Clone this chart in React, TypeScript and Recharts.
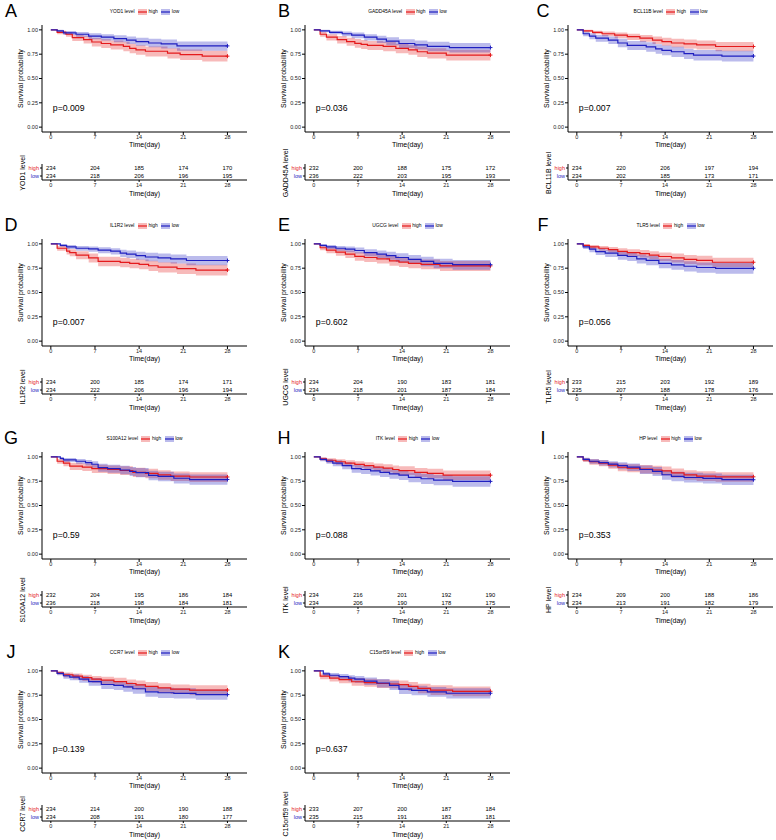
import React from 'react';
import { ComposedChart, Line, Area, Scatter, XAxis, YAxis, ReferenceDot, Label } from 'recharts';

const RED = '#e41a1c';
const BLUE = '#1f1fc0';
const FONT = '"Liberation Sans", Arial, sans-serif';

const letters = ['A', 'B', 'C', 'D', 'E', 'F', 'G', 'H', 'I', 'J', 'K'];
const genes = ['YOD1', 'GADD45A', 'BCL11B', 'IL1R2', 'UGCG', 'TLR5', 'S100A12', 'ITK', 'HP', 'CCR7', 'C15orf59'];
const pValues = ['p=0.009', 'p=0.036', 'p=0.007', 'p=0.007', 'p=0.602', 'p=0.056', 'p=0.59', 'p=0.088', 'p=0.353', 'p=0.139', 'p=0.637'];
const timeTicks = [0, 7, 14, 21, 28];
const survTicks = [0, 0.25, 0.5, 0.75, 1];

// number at risk, at days 0/7/14/21/28
const riskHigh = [
  [234, 204, 185, 174, 170],
  [232, 200, 188, 175, 172],
  [234, 220, 206, 197, 194],
  [234, 200, 185, 174, 171],
  [234, 204, 190, 183, 181],
  [233, 215, 203, 192, 189],
  [232, 204, 195, 186, 184],
  [234, 216, 201, 192, 190],
  [234, 209, 200, 188, 186],
  [234, 214, 200, 190, 188],
  [233, 207, 200, 187, 184],
];
const riskLow = [
  [234, 218, 206, 196, 195],
  [236, 222, 203, 195, 193],
  [234, 202, 185, 173, 171],
  [234, 222, 206, 196, 194],
  [234, 218, 201, 187, 184],
  [235, 207, 188, 178, 176],
  [236, 218, 198, 184, 181],
  [234, 206, 190, 178, 175],
  [234, 213, 191, 182, 179],
  [234, 208, 191, 180, 177],
  [235, 215, 191, 183, 181],
];

// KM steps: [day, survival, lower CI, upper CI]
const yod1High = [[0,1,1,1],[1,.975,.955,.992],[2.4,.955,.928,.978],[3.4,.92,.885,.952],[5.2,.9,.86,.936],[6.5,.875,.83,.916],[8,.86,.814,.904],[9.5,.845,.797,.89],[11.5,.83,.781,.877],[12.5,.81,.76,.857],[13.5,.795,.744,.843],[15,.78,.727,.83],[18.5,.76,.706,.812],[20.5,.745,.69,.799],[24,.73,.675,.785],[28,.73,.675,.785]];
const yod1Low = [[0,1,1,1],[1,.99,.975,1],[2,.97,.948,.988],[4,.955,.928,.978],[6,.935,.903,.964],[8,.925,.89,.956],[10,.91,.872,.944],[12,.895,.854,.932],[13.5,.88,.836,.92],[15.5,.865,.82,.908],[17.5,.855,.809,.9],[20,.835,.786,.881],[28,.835,.786,.881]];
const gaddHigh = [[0,1,1,1],[1,.955,.928,.978],[2,.925,.89,.956],[3.7,.9,.86,.936],[5.2,.88,.836,.92],[6.5,.862,.816,.905],[7.5,.85,.803,.895],[8.5,.84,.792,.886],[11,.83,.781,.877],[13,.81,.76,.857],[15,.795,.744,.843],[16.4,.775,.722,.826],[18,.76,.706,.812],[21,.741,.686,.795],[28,.741,.686,.795]];
const gaddLow = [[0,1,1,1],[1,.99,.975,1],[2.5,.975,.955,.992],[4.5,.96,.935,.982],[6,.945,.915,.972],[8,.925,.89,.956],[10,.905,.866,.94],[11.5,.885,.842,.924],[13.5,.86,.814,.904],[16,.845,.797,.89],[18,.83,.781,.877],[21.5,.818,.768,.865],[28,.818,.768,.865]];
const bclHigh = [[0,1,1,1],[1,.99,.975,1],[2.5,.975,.955,.992],[4,.96,.935,.982],[6,.945,.915,.972],[8,.93,.897,.96],[10,.915,.878,.948],[12,.895,.854,.932],[13.5,.88,.836,.92],[15,.865,.82,.908],[17,.855,.809,.9],[19,.845,.797,.89],[22,.829,.78,.876],[28,.829,.78,.876]];
const bclLow = [[0,1,1,1],[1,.96,.935,.982],[2,.935,.903,.964],[3,.915,.878,.948],[5,.895,.854,.932],[6.5,.865,.82,.908],[8,.84,.792,.886],[11,.825,.776,.872],[12.5,.805,.754,.852],[13.5,.79,.738,.839],[15,.775,.722,.826],[17,.755,.7,.807],[18.5,.74,.685,.794],[23,.731,.676,.786],[28,.731,.676,.786]];
const il1High = [[0,1,1,1],[1,.955,.928,.978],[2.5,.925,.89,.956],[3,.91,.872,.944],[4,.885,.842,.924],[6,.855,.809,.9],[7.5,.82,.77,.867],[11,.81,.76,.857],[12.5,.8,.749,.848],[14,.79,.738,.839],[15.5,.775,.722,.826],[17,.76,.706,.812],[20,.745,.69,.799],[23,.731,.676,.786],[28,.731,.676,.786]];
const il1Low = [[0,1,1,1],[1.5,.985,.97,.997],[2.5,.97,.948,.988],[4,.955,.928,.978],[6,.948,.918,.974],[7.5,.935,.903,.964],[9.5,.925,.89,.956],[11,.905,.866,.94],[12,.895,.854,.932],[13.5,.88,.836,.92],[15,.865,.82,.908],[17,.855,.809,.9],[19,.845,.797,.89],[21.5,.829,.78,.876],[28,.829,.78,.876]];
const ugcgHigh = [[0,1,1,1],[1,.96,.935,.982],[2,.935,.903,.964],[3.5,.915,.878,.948],[5,.895,.854,.932],[6.5,.872,.827,.914],[8,.86,.814,.904],[10,.845,.797,.89],[12,.825,.776,.872],[13.5,.812,.762,.859],[15,.8,.749,.848],[17,.79,.738,.839],[20,.774,.721,.825],[28,.774,.721,.825]];
const ugcgLow = [[0,1,1,1],[1,.985,.97,.997],[2,.97,.948,.988],[3.5,.955,.928,.978],[5,.945,.915,.972],[6.5,.932,.9,.962],[8,.91,.872,.944],[10,.895,.854,.932],[11.5,.88,.836,.92],[13,.86,.814,.904],[15,.84,.792,.886],[17,.82,.77,.867],[19,.8,.749,.848],[22,.786,.734,.835],[28,.786,.734,.835]];
const tlrHigh = [[0,1,1,1],[1,.985,.97,.997],[2,.97,.948,.988],[3.5,.955,.928,.978],[5,.94,.91,.968],[6.5,.923,.888,.955],[8,.91,.872,.944],[10,.9,.86,.936],[11.5,.885,.842,.924],[13,.87,.825,.912],[15,.855,.809,.9],[17,.84,.792,.886],[19,.83,.781,.877],[21.5,.811,.761,.858],[28,.811,.761,.858]];
const tlrLow = [[0,1,1,1],[1,.97,.948,.988],[2,.945,.915,.972],[3,.92,.885,.952],[4.5,.905,.866,.94],[6.5,.881,.837,.921],[8,.87,.825,.912],[9.5,.845,.797,.89],[11,.83,.781,.877],[13,.8,.749,.848],[15,.785,.733,.834],[17,.77,.717,.821],[19,.757,.703,.809],[22,.749,.694,.802],[28,.749,.694,.802]];
const s100High = [[0,1,1,1],[1,.955,.928,.978],[2,.935,.903,.964],[3,.905,.866,.94],[5,.895,.854,.932],[6.5,.879,.835,.919],[9,.87,.825,.912],[11,.86,.814,.904],[13,.841,.793,.887],[15,.83,.781,.877],[17,.815,.765,.862],[19,.802,.751,.85],[22,.793,.741,.842],[28,.793,.741,.842]];
const s100Low = [[0,1,1,1],[1.5,.985,.97,.997],[2,.97,.948,.988],[4,.955,.928,.978],[5.5,.94,.91,.968],[6.5,.924,.889,.955],[7.5,.89,.848,.928],[9,.88,.836,.92],[11,.865,.82,.908],[12.5,.85,.803,.895],[13.5,.839,.79,.885],[15.5,.81,.76,.857],[17,.8,.749,.848],[19.5,.78,.727,.83],[22,.767,.714,.818],[28,.767,.714,.818]];
const itkHigh = [[0,1,1,1],[1,.98,.962,.995],[2,.965,.94,.985],[3.5,.95,.92,.975],[5,.935,.903,.964],[6.5,.923,.888,.955],[8,.91,.872,.944],[9.5,.895,.854,.932],[11,.885,.842,.924],[12.5,.87,.825,.912],[13.5,.859,.813,.903],[16,.84,.792,.886],[18,.83,.781,.877],[20.5,.812,.762,.859],[28,.812,.762,.859]];
const itkLow = [[0,1,1,1],[1,.975,.955,.992],[2,.955,.928,.978],[3,.935,.903,.964],[4.5,.91,.872,.944],[6,.88,.836,.92],[7.5,.87,.825,.912],[9,.855,.809,.9],[10.5,.84,.792,.886],[12,.825,.776,.872],[13.5,.812,.762,.859],[15,.79,.738,.839],[17,.775,.722,.826],[19,.761,.707,.813],[22,.748,.693,.801],[28,.748,.693,.801]];
const hpHigh = [[0,1,1,1],[1,.97,.948,.988],[2,.95,.92,.975],[3.5,.935,.903,.964],[5,.915,.878,.948],[6.5,.893,.852,.931],[8,.885,.842,.924],[10,.875,.83,.916],[12,.865,.82,.908],[13.5,.855,.809,.9],[15,.835,.786,.881],[17,.815,.765,.862],[19,.803,.752,.851],[22,.795,.744,.843],[28,.795,.744,.843]];
const hpLow = [[0,1,1,1],[1,.975,.955,.992],[2,.955,.928,.978],[3.5,.94,.91,.968],[5,.925,.89,.956],[6.5,.91,.872,.944],[8,.895,.854,.932],[10,.87,.825,.912],[12,.85,.803,.895],[13.5,.816,.766,.863],[15,.8,.749,.848],[17,.788,.736,.837],[20,.778,.725,.828],[23,.765,.712,.816],[28,.765,.712,.816]];
const ccr7High = [[0,1,1,1],[1,.98,.962,.995],[2,.96,.935,.982],[3.5,.945,.915,.972],[5,.93,.897,.96],[6.5,.915,.878,.948],[8,.905,.866,.94],[10,.89,.848,.928],[12,.87,.825,.912],[13.5,.855,.809,.9],[15,.84,.792,.886],[17,.825,.776,.872],[19,.812,.762,.859],[22,.803,.752,.851],[28,.803,.752,.851]];
const ccr7Low = [[0,1,1,1],[1,.975,.955,.992],[2,.95,.92,.975],[3,.935,.903,.964],[4.5,.915,.878,.948],[6,.889,.847,.927],[8,.86,.814,.904],[10,.85,.803,.895],[11.5,.835,.786,.881],[13,.816,.766,.863],[15,.785,.733,.834],[17,.775,.722,.826],[19.5,.769,.716,.82],[23,.756,.702,.808],[28,.756,.702,.808]];
const c15High = [[0,1,1,1],[1,.945,.915,.972],[2.5,.925,.89,.956],[4,.91,.872,.944],[6,.888,.846,.927],[8,.88,.836,.92],[10,.87,.825,.912],[12,.865,.82,.908],[13.5,.858,.812,.902],[15,.84,.792,.886],[16.5,.82,.77,.867],[18.5,.803,.752,.851],[22,.79,.738,.839],[28,.79,.738,.839]];
const c15Low = [[0,1,1,1],[1.5,.97,.948,.988],[2.5,.955,.928,.978],[4,.94,.91,.968],[5.5,.925,.89,.956],[6.5,.915,.878,.948],[8,.895,.854,.932],[10,.875,.83,.916],[12,.85,.803,.895],[13.5,.813,.763,.86],[15.5,.8,.749,.848],[18,.785,.733,.834],[21,.77,.717,.821],[28,.77,.717,.821]];

const highCurves = [yod1High, gaddHigh, bclHigh, il1High, ugcgHigh, tlrHigh, s100High, itkHigh, hpHigh, ccr7High, c15High];
const lowCurves = [yod1Low, gaddLow, bclLow, il1Low, ugcgLow, tlrLow, s100Low, itkLow, hpLow, ccr7Low, c15Low];

const colX = [0, 263, 526];
const rowY = [0, 214, 427, 641];
const letterX = [11, 21, 17];

const toRows = (c: number[][]) => c.map(([t, s, lo, hi]) => ({ t, s, band: [lo, hi] }));

const censorDot = (color: string, last: number) => (p: any) =>
  p.index === last ? (
    <path key={`c${p.index}`} d={`M${p.cx - 2},${p.cy}h4M${p.cx},${p.cy - 2}v4`} stroke={color} strokeWidth={1} />
  ) : (
    <g key={`c${p.index}`} />
  );

const Key = ({ color }: { color: string }) => (
  <svg width={9} height={6} style={{ margin: '0 1.5px' }}>
    <rect x={0} y={0} width={9} height={6} fill={color} fillOpacity={0.3} />
    <line x1={0} x2={9} y1={3} y2={3} stroke={color} strokeWidth={1.2} />
  </svg>
);

const axisProps = { stroke: '#000', tick: { fontSize: 5.5, fill: '#222' } };

const Panel = ({ i }: { i: number }) => {
  const col = i % 3;
  const row = Math.floor(i / 3);
  const high = toRows(highCurves[i]);
  const low = toRows(lowCurves[i]);
  const riskData = timeTicks.flatMap((t, k) => [
    { t, row: 2, n: riskHigh[i][k] },
    { t, row: 1, n: riskLow[i][k] },
  ]);
  return (
    <div style={{ position: 'absolute', left: colX[col], top: rowY[row], width: 250, height: 214, fontFamily: FONT }}>
      <div style={{ position: 'absolute', left: 0, top: 0 }}>
        <ComposedChart width={250} height={152} margin={{ top: 25, right: 3, bottom: 0, left: 0 }}>
          <XAxis dataKey="t" type="number" domain={[-1.4, 31.1]} ticks={timeTicks} allowDataOverflow interval={0}
            height={20} tickSize={3} tickMargin={0} {...axisProps}>
            <Label value="Time(day)" position="insideBottom" offset={5.5} fontSize={7} fill="#000" />
          </XAxis>
          <YAxis type="number" domain={[-0.05, 1.05]} ticks={survTicks} allowDataOverflow width={42} interval={0}
            tickSize={3} tickMargin={1} tickFormatter={(v: number) => v.toFixed(2)} {...axisProps}>
            <Label value="Survival probability" angle={-90} position="center" fontSize={7} fill="#000" />
          </YAxis>
          <Area data={high} dataKey="band" type="stepAfter" stroke="none" fill={RED} fillOpacity={0.3} isAnimationActive={false} activeDot={false} />
          <Area data={low} dataKey="band" type="stepAfter" stroke="none" fill={BLUE} fillOpacity={0.3} isAnimationActive={false} activeDot={false} />
          <Line data={high} dataKey="s" type="stepAfter" stroke={RED} strokeWidth={1.2} dot={censorDot(RED, high.length - 1)} isAnimationActive={false} activeDot={false} />
          <Line data={low} dataKey="s" type="stepAfter" stroke={BLUE} strokeWidth={1.2} dot={censorDot(BLUE, low.length - 1)} isAnimationActive={false} activeDot={false} />
          <ReferenceDot x={0} y={0.2} r={0} label={{ value: pValues[i], position: 'right', offset: 2, fontSize: 8.7, fill: '#000' }} />
        </ComposedChart>
      </div>
      <div style={{ position: 'absolute', left: 0, top: 135 }}>
        <ComposedChart width={250} height={64} margin={{ top: 29, right: 3, bottom: 0, left: 0 }}>
          <XAxis dataKey="t" type="number" domain={[-1.4, 31.1]} ticks={timeTicks} allowDataOverflow interval={0}
            height={19} tickSize={2} tickMargin={1} {...axisProps}>
            <Label value="Time(day)" position="insideBottom" offset={3.5} fontSize={7} fill="#000" />
          </XAxis>
          <YAxis type="number" domain={[0.5, 2.5]} ticks={[1, 2]} width={42} tickSize={2} tickMargin={1} interval={0}
            stroke="#000"
            tick={(p: any) => (
              <text x={p.x} y={p.y} dy={2} textAnchor="end" fontSize={5.5} fill={p.payload.value === 2 ? RED : BLUE}>
                {p.payload.value === 2 ? 'high' : 'low'}
              </text>
            )}>
            <Label content={() => (
              <text transform="translate(22,38) rotate(-90)" textAnchor="middle" dominantBaseline="central" fontSize={7} fill="#000">
                {genes[i]} level
              </text>
            )} />
          </YAxis>
          <Scatter data={riskData} dataKey="row" isAnimationActive={false}
            shape={(p: any) => (
              <text x={p.cx} y={p.cy} dy={2} textAnchor="middle" fontSize={5.8} fill="#000">{p.payload.n}</text>
            )} />
        </ComposedChart>
      </div>
      <div style={{ position: 'absolute', left: letterX[col] - 10, top: 1, width: 20, textAlign: 'center', fontSize: 18, lineHeight: '20px' }}>
        {letters[i]}
      </div>
      <div style={{ position: 'absolute', left: 42, top: 9, width: 205, height: 6, display: 'flex', justifyContent: 'center', alignItems: 'center', fontSize: 4.9, lineHeight: '6px' }}>
        <span style={{ marginRight: 2 }}>{genes[i]} level</span>
        <Key color={RED} />
        <span style={{ marginRight: 2 }}>high</span>
        <Key color={BLUE} />
        <span>low</span>
      </div>
    </div>
  );
};

export default function App() {
  return (
    <div style={{ position: 'absolute', left: 0, top: 0, width: 776, height: 840, background: '#fff', overflow: 'hidden' }}>
      {letters.map((_, i) => (
        <Panel key={i} i={i} />
      ))}
    </div>
  );
}
